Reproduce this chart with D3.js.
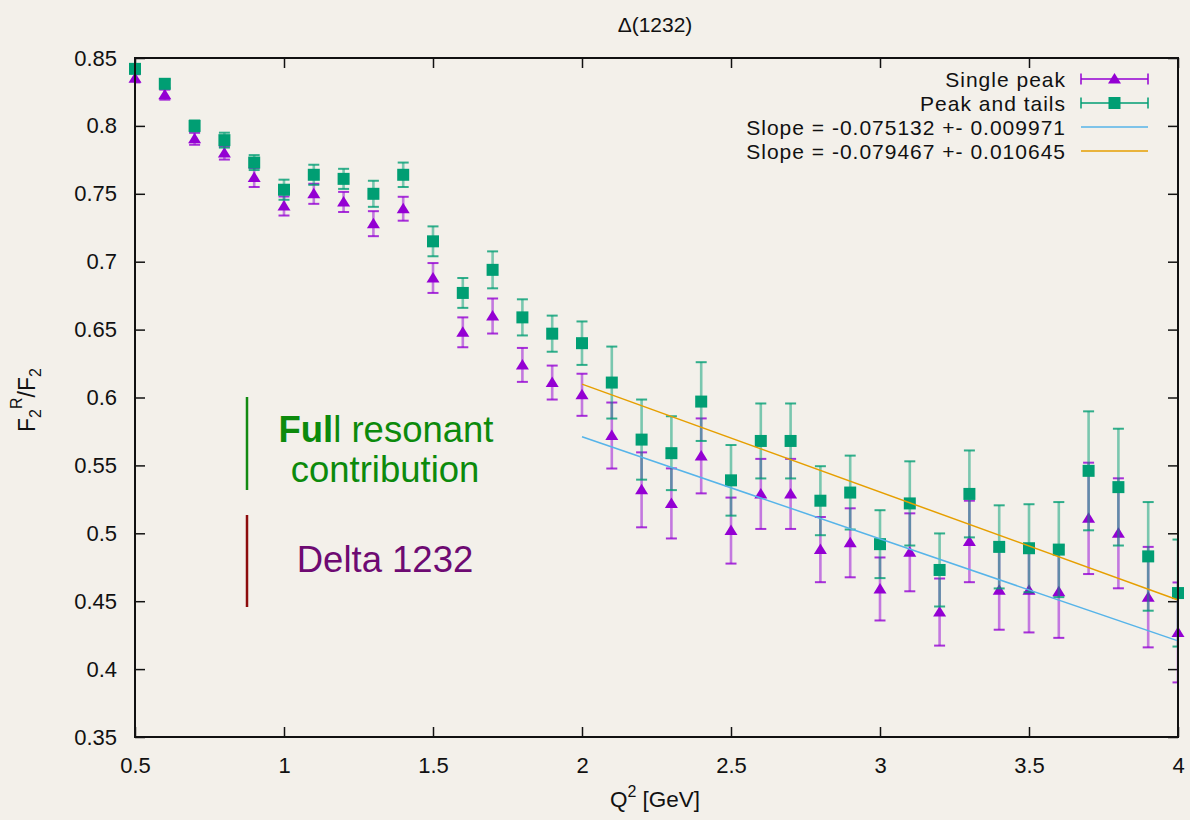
<!DOCTYPE html>
<html>
<head>
<meta charset="utf-8">
<script src="https://cdn.jsdelivr.net/npm/d3@7"></script>
<style>
  html, body { margin: 0; padding: 0; background: #f3f0ea; }
  svg { display: block; }
  text { font-family: "Liberation Sans", Arial, Helvetica, sans-serif; fill: #111; }
</style>
</head>
<body>
<svg id="chart" width="1190" height="820"></svg>
<script>
// Q^2 grid (GeV)
const q2 = [0.5, 0.6, 0.7, 0.8, 0.9, 1.0, 1.1, 1.2, 1.3, 1.4, 1.5, 1.6, 1.7, 1.8, 1.9,
            2.0, 2.1, 2.2, 2.3, 2.4, 2.5, 2.6, 2.7, 2.8, 2.9, 3.0, 3.1, 3.2, 3.3, 3.4,
            3.5, 3.6, 3.7, 3.8, 3.9, 4.0];

// F2^R / F2, single peak
const singlePeak = [0.835, 0.823, 0.7905, 0.780, 0.762, 0.741, 0.750, 0.744, 0.728, 0.739,
                    0.688, 0.648, 0.660, 0.624, 0.611, 0.602, 0.572, 0.532, 0.522, 0.557,
                    0.502, 0.529, 0.529, 0.488, 0.493, 0.459, 0.486, 0.442, 0.494, 0.458,
                    0.458, 0.457, 0.511, 0.500, 0.453, 0.427];
const singlePeakErr = [0.003, 0.0037, 0.0044, 0.0048, 0.007, 0.007, 0.0074, 0.0074, 0.0092, 0.0088,
                       0.011, 0.011, 0.0129, 0.0125, 0.0125, 0.0155, 0.0243, 0.0276, 0.0258, 0.0276,
                       0.0243, 0.0258, 0.0258, 0.024, 0.0254, 0.0232, 0.0287, 0.0247, 0.030, 0.029,
                       0.031, 0.034, 0.041, 0.0405, 0.037, 0.0368];

// F2^R / F2, peak and tails
const peakTails = [0.842, 0.831, 0.800, 0.7895, 0.773, 0.753, 0.764, 0.761, 0.750, 0.764,
                   0.715, 0.677, 0.694, 0.659, 0.647, 0.640, 0.611, 0.569, 0.559, 0.597,
                   0.539, 0.568, 0.568, 0.524, 0.530, 0.492, 0.522, 0.473, 0.529, 0.490,
                   0.489, 0.488, 0.546, 0.534, 0.483, 0.456];
const peakTailsErr = [0.002, 0.003, 0.004, 0.0055, 0.0055, 0.0074, 0.0074, 0.0074, 0.0096, 0.009,
                      0.011, 0.011, 0.0136, 0.0133, 0.0133, 0.016, 0.0265, 0.0295, 0.0272, 0.029,
                      0.026, 0.0276, 0.0276, 0.0254, 0.0272, 0.025, 0.031, 0.0269, 0.032, 0.0306,
                      0.0324, 0.035, 0.0438, 0.043, 0.040, 0.0394];

// Linear fits over 2 <= Q^2 <= 4
const fitLabels = ["Slope = -0.075132 +- 0.009971", "Slope = -0.079467 +- 0.010645"];
const fitSlopes = [-0.075132, -0.079467];
const fitIntercepts = [0.7213, 0.7688];
const fitRange = [2.0, 4.0];

const seriesLabels = ["Single peak", "Peak and tails"];
const xTicks = [0.5, 1, 1.5, 2, 2.5, 3, 3.5, 4];
const yTicks = [0.35, 0.4, 0.45, 0.5, 0.55, 0.6, 0.65, 0.7, 0.75, 0.8, 0.85];

const colPurple = "#9400d3", colGreen = "#009e73", colBlue = "#56b4e9", colOrange = "#e69f00";

const svg = d3.select("#chart");
const W = 1190, H = 820;
const m = { left: 135, right: 12, top: 58, bottom: 83 };

svg.append("rect").attr("width", W).attr("height", H).attr("fill", "#f3f0ea");

const x = d3.scaleLinear().domain([0.5, 4]).range([m.left, W - m.right]);
const y = d3.scaleLinear().domain([0.35, 0.85]).range([H - m.bottom, m.top]);

svg.append("defs").append("clipPath").attr("id", "plotclip")
  .append("rect")
  .attr("x", x(0.5)).attr("y", y(0.85))
  .attr("width", x(4) - x(0.5)).attr("height", y(0.35) - y(0.85));

// Axes with inward ticks, mirrored on top and right
const fmt = d => String(d);
const gx = svg.append("g").attr("transform", `translate(0,${y(0.35)})`)
  .call(d3.axisBottom(x).tickValues(xTicks).tickFormat(fmt).tickSizeInner(-10).tickSizeOuter(0).tickPadding(20));
const gxTop = svg.append("g").attr("transform", `translate(0,${y(0.85)})`)
  .call(d3.axisTop(x).tickValues(xTicks).tickFormat("").tickSizeInner(-10).tickSizeOuter(0));
const gy = svg.append("g").attr("transform", `translate(${x(0.5)},0)`)
  .call(d3.axisLeft(y).tickValues(yTicks).tickFormat(fmt).tickSizeInner(-10).tickSizeOuter(0).tickPadding(18));
const gyR = svg.append("g").attr("transform", `translate(${x(4)},0)`)
  .call(d3.axisRight(y).tickValues(yTicks).tickFormat("").tickSizeInner(-10).tickSizeOuter(0));
[gx, gxTop, gy, gyR].forEach(g => {
  g.select(".domain").remove();
  g.selectAll(".tick line").attr("stroke", "#111").attr("stroke-width", 1.5);
  g.selectAll(".tick text").attr("font-size", 22).attr("fill", "#111")
    .attr("font-family", '"Liberation Sans", Arial, sans-serif');
});

// Error bars and markers
function drawSeries(vals, errs, color, marker) {
  const g = svg.append("g");
  const bars = g.append("g").attr("clip-path", "url(#plotclip)");
  q2.forEach((q, i) => {
    const cx = x(q), y0 = y(vals[i] - errs[i]), y1 = y(vals[i] + errs[i]);
    bars.append("line").attr("x1", cx).attr("x2", cx).attr("y1", y0).attr("y2", y1)
      .attr("stroke", color).attr("stroke-width", 2.6).attr("stroke-opacity", 0.5);
    [y0, y1].forEach(yy => bars.append("line")
      .attr("x1", cx - 5.5).attr("x2", cx + 5.5).attr("y1", yy).attr("y2", yy)
      .attr("stroke", color).attr("stroke-width", 2).attr("stroke-opacity", 0.8));
  });
  q2.forEach((q, i) => {
    g.append("path").attr("d", marker)
      .attr("transform", `translate(${x(q)},${y(vals[i])})`)
      .attr("fill", color);
  });
}
const triPath = "M0,-6L6.5,4.5L-6.5,4.5Z";
const sqPath = "M-6,-6H6V6H-6Z";
drawSeries(singlePeak, singlePeakErr, colPurple, triPath);
drawSeries(peakTails, peakTailsErr, colGreen, sqPath);

// Fit lines
const fitColors = [colBlue, colOrange];
fitSlopes.forEach((b, k) => {
  const a = fitIntercepts[k];
  svg.append("line")
    .attr("x1", x(fitRange[0])).attr("y1", y(a + b * fitRange[0]))
    .attr("x2", x(fitRange[1])).attr("y2", y(a + b * fitRange[1]))
    .attr("stroke", fitColors[k]).attr("stroke-width", 1.5);
});

// Frame
svg.append("rect")
  .attr("x", x(0.5)).attr("y", y(0.85))
  .attr("width", x(4) - x(0.5)).attr("height", y(0.35) - y(0.85))
  .attr("fill", "none").attr("stroke", "#111").attr("stroke-width", 2);

// Legend
const lg = svg.append("g");
const lgTextX = 1066, lgX0 = 1081, lgX1 = 1148, lgRows = [79, 103, 127, 151];
const legendItems = [
  { label: seriesLabels[0], color: colPurple, marker: triPath, bars: true },
  { label: seriesLabels[1], color: colGreen, marker: sqPath, bars: true },
  { label: fitLabels[0], color: colBlue },
  { label: fitLabels[1], color: colOrange }
];
legendItems.forEach((it, i) => {
  const ly = lgRows[i];
  lg.append("text").attr("x", lgTextX).attr("y", ly + 7.5).attr("text-anchor", "end")
    .attr("font-size", 21).attr("letter-spacing", 1).text(it.label);
  lg.append("line").attr("x1", lgX0).attr("x2", lgX1).attr("y1", ly).attr("y2", ly)
    .attr("stroke", it.color).attr("stroke-width", it.bars ? 2 : 1.5)
    .attr("stroke-opacity", it.bars ? 0.75 : 1);
  if (it.bars) {
    [lgX0, lgX1].forEach(xx => lg.append("line").attr("x1", xx).attr("x2", xx)
      .attr("y1", ly - 5.5).attr("y2", ly + 5.5)
      .attr("stroke", it.color).attr("stroke-width", 2).attr("stroke-opacity", 0.75));
    lg.append("path").attr("d", it.marker)
      .attr("transform", `translate(${(lgX0 + lgX1) / 2},${ly})`).attr("fill", it.color);
  }
});

// Title and axis labels
svg.append("text").attr("x", 655).attr("y", 32).attr("text-anchor", "middle")
  .attr("font-size", 21).text("Δ(1232)");

const xl = svg.append("text").attr("x", 655).attr("y", 807).attr("text-anchor", "middle")
  .attr("font-size", 22.5);
xl.append("tspan").text("Q");
xl.append("tspan").attr("dy", -10).attr("font-size", 16).text("2");
xl.append("tspan").attr("dy", 10).text(" [GeV]");

const yl = svg.append("text").attr("transform", "translate(35,400) rotate(-90)")
  .attr("text-anchor", "middle").attr("font-size", 23);
yl.append("tspan").text("F");
yl.append("tspan").attr("dy", 6).attr("font-size", 16).text("2");
yl.append("tspan").attr("dy", -19).attr("font-size", 16).text("R");
yl.append("tspan").attr("dy", 13).text("/F");
yl.append("tspan").attr("dy", 6).attr("font-size", 16).text("2");

// Annotations
svg.append("line").attr("x1", 247).attr("x2", 247).attr("y1", 397).attr("y2", 490)
  .attr("stroke", "#128a12").attr("stroke-width", 2.5);
svg.append("line").attr("x1", 247).attr("x2", 247).attr("y1", 515).attr("y2", 607)
  .attr("stroke", "#8c0c0c").attr("stroke-width", 2.5);

const t1 = svg.append("text").attr("x", 386).attr("y", 442).attr("text-anchor", "middle")
  .attr("font-size", 36.5).style("fill", "#0c8a0c");
t1.append("tspan").attr("font-weight", "bold").text("Ful");
t1.append("tspan").text("l resonant");
svg.append("text").attr("x", 385).attr("y", 482).attr("text-anchor", "middle")
  .attr("font-size", 36.5).style("fill", "#0c8a0c").text("contribution");
svg.append("text").attr("x", 385).attr("y", 572).attr("text-anchor", "middle")
  .attr("font-size", 36.5).style("fill", "#6e0a72").text("Delta 1232");
</script>
</body>
</html>
